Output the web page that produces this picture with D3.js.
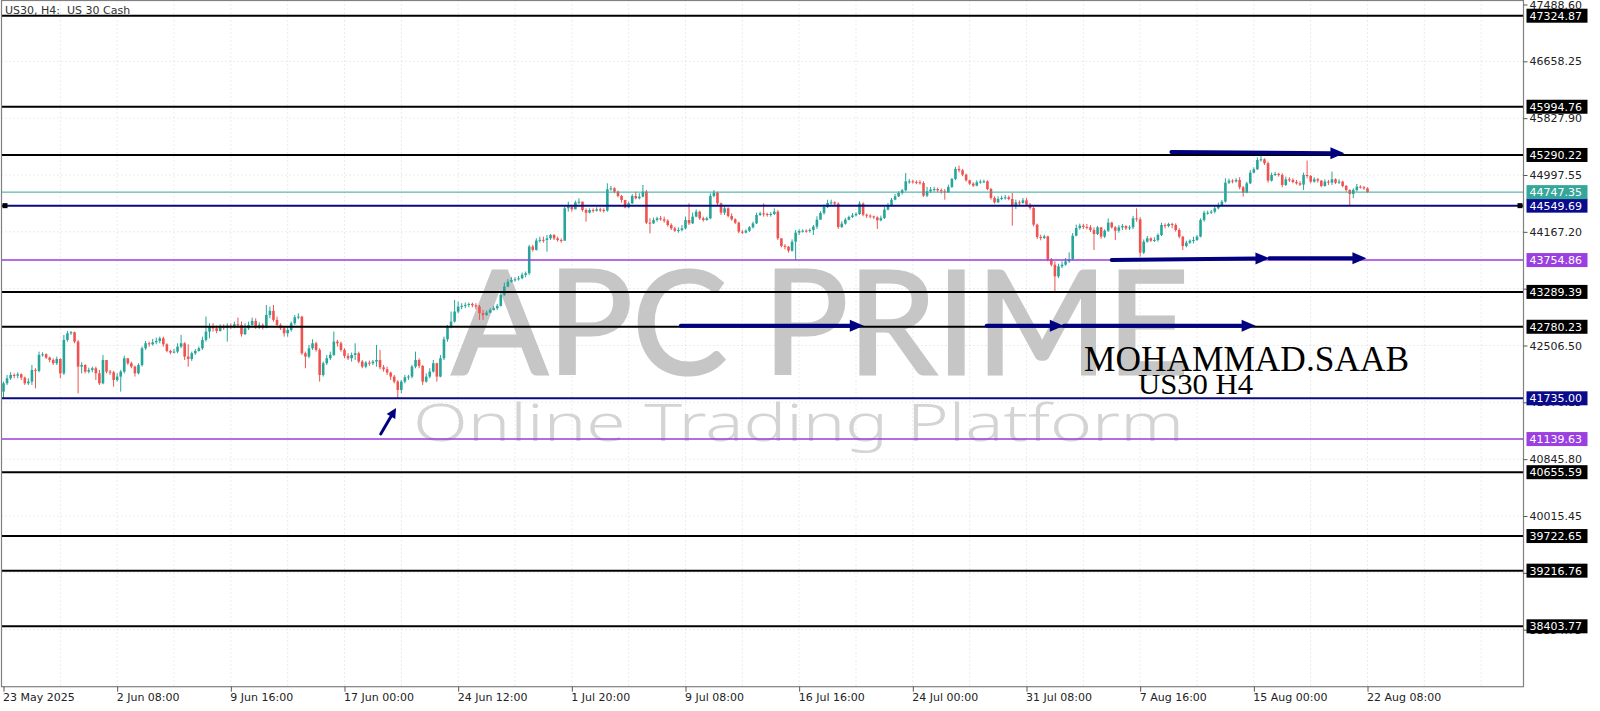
<!DOCTYPE html>
<html><head><meta charset="utf-8">
<script src="https://cdn.jsdelivr.net/npm/d3@7"></script>
<style>body{margin:0;background:#fff;overflow:hidden}svg{display:block}</style>
</head><body>
<svg id="c" width="1600" height="711"></svg>
<script>
// ---------- DATA (US30, H4) ----------
const firstOpen = 41832;
const closes = [
41954,42027,42076,42066,42086,42037,41954,41979,42149,42135,
42369,42378,42330,42295,42247,42310,42100,42588,42685,42700,
42563,42198,42222,42125,42149,42174,42100,41954,42295,42125,
42115,42003,42052,42125,42320,42247,42198,42100,42222,42466,
42539,42524,42554,42573,42612,42524,42427,42403,42417,42490,
42539,42344,42310,42393,42427,42466,42588,42710,42783,42758,
42719,42783,42768,42797,42783,42817,42807,42671,42758,42807,
42866,42768,42807,42768,42953,43012,42880,42807,42758,42685,
42734,42831,42919,42929,42393,42344,42466,42539,42442,42076,
42247,42320,42369,42563,42539,42442,42354,42320,42369,42393,
42271,42198,42256,42247,42271,42295,42188,42159,42110,42052,
41979,41857,41979,42042,42052,42198,42295,42208,41979,42052,
42125,42247,42052,42320,42597,42783,42856,43002,43075,43085,
43099,43114,43095,43075,42978,42953,42987,43026,43051,43085,
43246,43367,43440,43465,43474,43489,43538,43562,43952,43904,
44040,44050,44048,44072,44121,44072,44048,44038,44511,44535,
44496,44598,44608,44486,44447,44486,44477,44496,44486,44477,
44789,44803,44754,44691,44633,44525,44584,44691,44657,44681,
44754,44301,44291,44340,44365,44350,44330,44267,44218,44184,
44194,44218,44340,44291,44389,44462,44365,44340,44365,44691,
44740,44584,44447,44511,44399,44350,44301,44170,44155,44184,
44233,44291,44413,44437,44428,44413,44428,44462,44072,43960,
43950,43892,44023,44155,44179,44184,44179,44194,44243,44345,
44443,44530,44589,44598,44579,44238,44287,44345,44384,44408,
44428,44579,44418,44404,44394,44379,44335,44369,44491,44550,
44637,44686,44735,44774,44905,44905,44896,44891,44881,44696,
44759,44784,44793,44774,44759,44745,44823,44940,45086,45066,
45003,44920,44871,44842,44891,44901,44905,44793,44662,44598,
44647,44662,44672,44647,44550,44598,44589,44628,44564,44516,
44272,44092,44077,44101,43760,43687,43517,43663,43687,43736,
43770,44111,44223,44257,44238,44233,44194,44135,44233,44097,
44184,44301,44233,44184,44233,44253,44218,44233,44364,44350,
43863,44023,44072,44038,44048,44121,44267,44253,44282,44267,
44194,44097,43960,44009,44038,44048,44097,44340,44447,44447,
44462,44511,44559,44608,44886,44915,44905,44925,44818,44740,
44876,45032,45081,45217,45227,45169,44915,44998,45013,44998,
44852,44935,44925,44896,44876,44857,44998,44983,44901,44935,
44915,44837,44901,44886,44935,44886,44901,44837,44779,44720,
44779,44827,44818,44803,44747
];
const highs = [
41979,42076,42115,42100,42115,42100,42052,42027,42222,42174,
42417,42407,42393,42344,42320,42344,42320,42661,42719,42719,
42710,42588,42261,42232,42183,42198,42198,42149,42369,42295,
42149,42135,42100,42149,42358,42310,42271,42213,42247,42490,
42573,42563,42602,42622,42636,42636,42539,42442,42456,42539,
42661,42554,42524,42417,42456,42490,42636,42929,42831,42831,
42797,42817,42817,42831,42831,42856,42914,42856,42831,42856,
42914,42904,42846,42831,43099,43075,43099,42929,42831,42783,
42783,42856,42953,42977,42938,42417,42515,42598,42563,42466,
42271,42368,42417,42710,42588,42563,42466,42393,42403,42539,
42417,42295,42281,42286,42295,42515,42442,42222,42198,42125,
42076,42003,42003,42076,42076,42222,42417,42320,42222,42100,
42174,42295,42256,42369,42637,42807,43002,43173,43148,43124,
43134,43134,43134,43124,43099,43026,43017,43051,43085,43114,
43270,43426,43475,43504,43504,43523,43572,43587,43977,43977,
44074,44098,44097,44121,44135,44135,44097,44072,44559,44608,
44559,44623,44657,44608,44511,44511,44511,44525,44520,44511,
44876,44837,44818,44769,44706,44594,44608,44720,44754,44730,
44852,44779,44365,44374,44389,44399,44389,44350,44291,44243,
44233,44267,44389,44584,44447,44496,44477,44389,44389,44730,
44779,44754,44594,44545,44525,44437,44365,44316,44194,44204,
44252,44316,44447,44462,44584,44447,44457,44511,44486,44072,
43989,43960,44057,44194,44204,44204,44204,44218,44267,44394,
44467,44564,44637,44637,44613,44598,44321,44369,44404,44443,
44452,44613,44598,44433,44423,44404,44394,44404,44530,44589,
44662,44720,44759,44793,45027,44940,44930,44920,44920,44905,
44823,44823,44823,44813,44803,44793,44857,44954,45115,45134,
45086,45018,44930,44891,44920,44930,44930,44920,44808,44686,
44686,44696,44706,44696,44735,44637,44628,44662,44662,44589,
44530,44287,44126,44126,44111,43785,43736,43702,43736,43785,
43868,44150,44272,44287,44287,44282,44267,44233,44253,44233,
44204,44364,44316,44253,44267,44282,44262,44262,44399,44511,
44379,44057,44106,44087,44087,44145,44301,44291,44301,44301,
44291,44218,44106,44038,44057,44097,44121,44364,44476,44476,
44486,44545,44594,44633,44949,44944,44935,44949,44964,44837,
44901,45071,45110,45256,45276,45242,45193,45032,45042,45032,
45022,44974,44964,44949,44925,44905,45032,45208,44998,44964,
44954,44925,44935,44925,45047,44949,44935,44915,44852,44788,
44803,44866,44847,44837,44818
];
const lows = [
41735,41930,42003,42027,42027,42003,41930,41930,41930,41881,
42115,42344,42310,42261,42222,42222,42027,42076,42563,42661,
42539,41808,42100,42100,42100,42115,42003,41930,41940,42100,
42076,41905,41979,41832,42100,42222,42174,42052,42086,42198,
42442,42490,42505,42524,42539,42490,42407,42378,42393,42393,
42466,42295,42198,42281,42369,42417,42442,42563,42612,42710,
42685,42710,42734,42563,42749,42758,42768,42636,42661,42734,
42783,42749,42749,42739,42758,42904,42856,42783,42734,42636,
42636,42710,42807,42890,42369,42174,42320,42442,42417,41979,
42052,42222,42295,42354,42490,42417,42320,42295,42271,42295,
42247,42174,42174,42208,42222,42198,42159,42125,42076,42003,
41954,41735,41808,41954,42003,42027,42174,42174,41930,41964,
42027,42110,41979,42042,42295,42563,42758,42841,42978,43036,
43051,43065,43065,43036,42880,42880,42939,42978,43017,43026,
43075,43231,43358,43426,43440,43455,43474,43504,43538,43879,
43894,44011,44009,43877,44048,44048,44023,44009,44038,44462,
44462,44511,44574,44462,44316,44437,44447,44462,44457,44447,
44462,44769,44730,44671,44594,44511,44511,44574,44642,44642,
44671,44282,44145,44282,44316,44330,44301,44243,44194,44165,
44155,44174,44204,44267,44282,44379,44340,44316,44330,44350,
44671,44559,44413,44413,44379,44330,44282,44145,44135,44145,
44165,44218,44282,44399,44389,44389,44389,44413,44048,43941,
43911,43863,43877,43755,44121,44155,44155,44155,44121,44209,
44345,44418,44516,44564,44550,44209,44223,44272,44335,44369,
44394,44413,44394,44369,44365,44355,44209,44321,44355,44482,
44540,44628,44676,44711,44759,44871,44871,44862,44857,44676,
44676,44735,44754,44745,44725,44637,44735,44808,44920,45037,
44979,44901,44852,44823,44832,44871,44881,44774,44637,44579,
44589,44628,44637,44628,44257,44501,44550,44579,44550,44491,
44247,44062,44043,44062,43736,43663,43297,43492,43638,43673,
43712,43751,44101,44199,44209,44204,44165,43902,44121,44067,
44077,44165,44213,44048,44155,44194,44194,44194,44204,44316,
43804,43843,44009,44018,44018,44023,44106,44218,44233,44218,
44170,44072,43902,43940,43989,43999,44038,44087,44316,44418,
44428,44438,44496,44555,44594,44866,44876,44886,44788,44681,
44730,44866,45022,45071,45193,45144,44886,44901,44983,44974,
44818,44837,44896,44876,44857,44837,44779,44949,44876,44886,
44886,44818,44828,44852,44852,44866,44866,44818,44754,44559,
44657,44754,44798,44779,44740
];

const xTickBars = [0,32,64,96,128,160,192,224,256,288,320,352,384];
const xTickLabels = ["23 May 2025","2 Jun 08:00","9 Jun 16:00","17 Jun 00:00","24 Jun 12:00","1 Jul 20:00","9 Jul 08:00","16 Jul 16:00","24 Jul 00:00","31 Jul 08:00","7 Aug 16:00","15 Aug 00:00","22 Aug 08:00"];
const yTicks = [47488.60,46658.25,45827.90,44997.55,44167.20,43336.85,42506.50,41676.15,40845.80,40015.45,39185.10,38354.75];
const yDomain = [37524.40, 47488.60];

const levelPrices = [47324.87,45994.76,45290.22,44549.69,43754.86,43289.39,42780.23,41735.00,41139.63,40655.59,39722.65,39216.76,38403.77];
const levelKinds  = ["black","black","black","navy","purple","black","black","navy","purple","black","black","black","black"];
const bidPrice = 44747.35;

// arrows drawn on the chart: [bar, price] start -> end
const arrowStarts = [[328.8,45335],[312,43756],[356.4,43781],[190.7,42795],[276.8,42795],[298.5,42795],[106.2,41214]];
const arrowEnds   = [[377.5,45315],[356.4,43781],[383.7,43781],[242.2,42795],[298.5,42795],[352.5,42795],[110.5,41594]];

// ---------- STYLE ----------
const UP = "#26a69a", DOWN = "#ef5350";
const kindColor = {black:"#000000", navy:"#0a0a7e", purple:"#9a3ddc"};
const kindBox   = {black:"#000000", navy:"#0a0a8c", purple:"#9b3fe0"};
const kindWidth = {black:2, navy:2, purple:1.5};
const NAVY = "#000080";
const FONT = "'DejaVu Sans', Tahoma, sans-serif";

const W = 1600, H = 711;
const P = {l:1.5, t:0.5, r:1523.5, b:686.7};

const x = d3.scaleLinear().domain([0, closes.length - 1]).range([3.5, 1367.5]);
const y = d3.scaleLinear().domain(yDomain).range([686.5, 4.5]);

const svg = d3.select("#c");
svg.append("rect").attr("width", W).attr("height", H).attr("fill", "#fff");

// grid
const grid = svg.append("g");
const gridBars = d3.range(16, 440, 16).filter(b => x(b) < P.r - 2);
grid.selectAll("line.v").data(gridBars).join("line")
  .attr("x1", d => x(d)).attr("x2", d => x(d)).attr("y1", P.t).attr("y2", P.b)
  .attr("stroke", "#d9d9d9").attr("stroke-width", 1).attr("stroke-dasharray", "1,3");
grid.selectAll("line.h").data(yTicks.slice(1)).join("line")
  .attr("x1", P.l).attr("x2", P.r).attr("y1", d => y(d)).attr("y2", d => y(d))
  .attr("stroke", "#d9d9d9").attr("stroke-width", 1).attr("stroke-dasharray", "1,3");

// watermark
svg.append("text").text("APC PRIME")
  .attr("x", 452).attr("y", 374)
  .attr("textLength", 737).attr("lengthAdjust", "spacingAndGlyphs")
  .attr("font-family", "'Lato', 'Liberation Sans', Arial, sans-serif").attr("font-weight", "normal")
  .attr("font-size", 143).attr("fill", "#c6c6c6")
  .attr("stroke", "#c6c6c6").attr("stroke-width", 3);
svg.append("text").text("Online Trading Platform")
  .attr("x", 413).attr("y", 441)
  .attr("textLength", 771).attr("lengthAdjust", "spacingAndGlyphs")
  .attr("font-family", "'Noto Sans', 'Open Sans', sans-serif").attr("font-weight", 300)
  .attr("font-size", 51).attr("fill", "#d4d4d4");

// candles
const opens = closes.map((c, i) => i === 0 ? firstOpen : closes[i - 1]);
const bars = closes.map((c, i) => ({i, o: opens[i], h: Math.max(highs[i], opens[i], c), l: Math.min(lows[i], opens[i], c), c}));
const cg = svg.append("g");
cg.selectAll("line").data(bars).join("line")
  .attr("x1", d => x(d.i)).attr("x2", d => x(d.i))
  .attr("y1", d => y(d.h)).attr("y2", d => y(d.l))
  .attr("stroke", d => d.c >= d.o ? UP : DOWN).attr("stroke-width", 1);
const bw = 2.6;
cg.selectAll("rect").data(bars).join("rect")
  .attr("x", d => x(d.i) - bw / 2).attr("width", bw)
  .attr("y", d => y(Math.max(d.o, d.c)))
  .attr("height", d => Math.max(1, Math.abs(y(d.o) - y(d.c))))
  .attr("fill", d => d.c >= d.o ? UP : DOWN);

// level lines
const lv = levelPrices.map((p, i) => ({p, k: levelKinds[i]}));
svg.append("g").selectAll("line").data(lv).join("line")
  .attr("x1", P.l).attr("x2", P.r).attr("y1", d => y(d.p)).attr("y2", d => y(d.p))
  .attr("stroke", d => kindColor[d.k]).attr("stroke-width", d => kindWidth[d.k]);
svg.append("line").attr("x1", P.l).attr("x2", P.r).attr("y1", y(bidPrice)).attr("y2", y(bidPrice))
  .attr("stroke", "#35a79a").attr("stroke-width", 1);
// end squares on the main navy level
const mainNavy = levelPrices[levelKinds.indexOf("navy")];
[P.l + 1, P.r - 6].forEach(xx => svg.append("rect").attr("x", xx).attr("y", y(mainNavy) - 2.5)
  .attr("width", 5).attr("height", 5).attr("fill", "#000"));

// arrows
const ag = svg.append("g");
arrowStarts.forEach((s, i) => {
  const e = arrowEnds[i];
  const x1 = x(s[0]), y1 = y(s[1]), x2 = x(e[0]), y2 = y(e[1]);
  const small = i === arrowStarts.length - 1;
  const ang = Math.atan2(y2 - y1, x2 - x1);
  const L = small ? 10 : 14, Wd = small ? 5 : 6;
  const bx = x2 - L * Math.cos(ang), by = y2 - L * Math.sin(ang);
  ag.append("line").attr("x1", x1).attr("y1", y1).attr("x2", bx).attr("y2", by)
    .attr("stroke", NAVY).attr("stroke-width", small ? 3 : 4).attr("stroke-linecap", "round");
  const px = -Math.sin(ang) * Wd, py = Math.cos(ang) * Wd;
  ag.append("path").attr("d", `M${x2},${y2}L${bx + px},${by + py}L${bx - px},${by - py}Z`).attr("fill", NAVY);
});

// author text
svg.append("text").text("MOHAMMAD.SAAB").attr("x", 1084).attr("y", 371)
  .attr("textLength", 325).attr("lengthAdjust", "spacingAndGlyphs")
  .attr("font-family", "'Liberation Serif', 'Times New Roman', serif").attr("font-size", 35).attr("fill", "#000");
svg.append("text").text("US30 H4").attr("x", 1138).attr("y", 394)
  .attr("textLength", 115).attr("lengthAdjust", "spacingAndGlyphs")
  .attr("font-family", "'Liberation Serif', 'Times New Roman', serif").attr("font-size", 29).attr("fill", "#000");

// frame
svg.append("rect").attr("x", P.l).attr("y", P.t).attr("width", P.r - P.l).attr("height", P.b - P.t)
  .attr("fill", "none").attr("stroke", "#808080").attr("stroke-width", 1.2);

// title
svg.append("text").text("US30, H4:  US 30 Cash").attr("x", 5).attr("y", 13.5)
  .style("white-space", "pre").attr("font-family", FONT).attr("font-size", 11).attr("fill", "#333");

// y axis
const ya = svg.append("g").attr("transform", `translate(${P.r},0)`)
  .call(d3.axisRight(y).tickValues(yTicks).tickFormat(d3.format(".2f")).tickSize(4).tickPadding(2));
ya.select(".domain").remove();
ya.selectAll("line").attr("stroke", "#555");
ya.selectAll("text").attr("font-family", FONT).attr("font-size", 11).attr("fill", "#222");

// x axis
const xa = svg.append("g").attr("transform", `translate(0,${P.b})`)
  .call(d3.axisBottom(x).tickValues(xTickBars).tickFormat((d, i) => xTickLabels[i]).tickSize(5));
xa.select(".domain").remove();
xa.selectAll("line").attr("stroke", "#555");
xa.selectAll("text").attr("text-anchor", "start").attr("x", -1).attr("y", 7)
  .attr("font-family", FONT).attr("font-size", 11).attr("fill", "#222");

// price labels on the right
const labels = lv.map(d => ({p: d.p, fill: kindBox[d.k]})).concat([{p: bidPrice, fill: "#35a79a"}]);
const lg = svg.append("g");
lg.selectAll("rect").data(labels).join("rect")
  .attr("x", P.r + 3).attr("y", d => y(d.p) - 7).attr("width", 61).attr("height", 14)
  .attr("fill", d => d.fill);
lg.selectAll("text").data(labels).join("text")
  .attr("x", P.r + 6).attr("y", d => y(d.p) + 4)
  .text(d => d3.format(".2f")(d.p))
  .attr("font-family", FONT).attr("font-size", 11).attr("fill", "#fff");
</script>
</body></html>
